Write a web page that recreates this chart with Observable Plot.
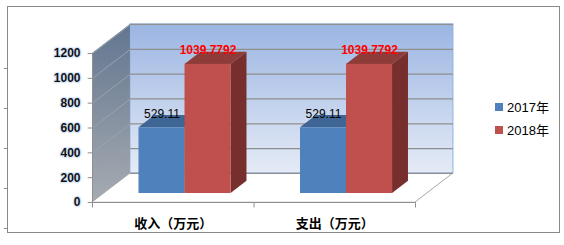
<!DOCTYPE html>
<html>
<head>
<meta charset="utf-8">
<script src="https://cdn.jsdelivr.net/npm/d3@7"></script>
<script src="https://cdn.jsdelivr.net/npm/@observablehq/plot@0.6"></script>
<style>
  html, body { margin: 0; padding: 0; background: #fff; }
  #wrap { position: relative; width: 564px; height: 245px; overflow: hidden; font-family: "Liberation Sans", Arial, "Noto Sans CJK SC", sans-serif; }
  #wrap svg { position: absolute; left: 0; top: 0; }
  #frame { position: absolute; left: 7px; top: 6px; width: 551px; height: 225px; border: 1px solid #8a8a8a; pointer-events: none; }
  .lt { position: absolute; left: 4px; width: 3px; height: 1px; background: #8a8a8a; }
  #legend { position: absolute; left: 495px; top: 95px; font-size: 13px; color: #000; }
  .row { display: flex; align-items: center; height: 23px; }
  .sw { width: 8px; height: 8px; margin-right: 4px; }
</style>
</head>
<body>
<div id="wrap">
  <div id="frame"></div>
</div>
<script>
// ---- data ----
const categories = ["收入（万元）", "支出（万元）"];
const series = ["2017年", "2018年"];
const values2017 = [529.11, 529.11];
const values2018 = [1039.7792, 1039.7792];
const yTicks = [0, 200, 400, 600, 800, 1000, 1200];
const seriesColors = ["#4F81BD", "#C0504D"];
const topColors = ["#3E6593", "#8E3C39"];
const sideColors = ["#365A85", "#772F2D"];
const labelColors = ["#000000", "#FF0000"];

// ---- 3D geometry (in scale units) ----
const DX = 0.235;   // full depth, x units
const DY = 234;     // full depth, y units
const BW = 0.285;   // bar width
const F = 0.31;     // depth of bar front face
const G = 0.42;     // bar depth thickness
const YMAX = 1200;
const NC = categories.length;

const bars = [];
categories.forEach((c, i) => {
  series.forEach((s, j) => {
    const v = j === 0 ? values2017[i] : values2018[i];
    const x1 = i + 0.5 - BW + F * DX + j * BW;
    bars.push({cat: c, i, s, j, v, x1, x2: x1 + BW, id: i + "-" + j});
  });
});

// polygons
const sidePts = bars.flatMap(b => [
  {id: b.id, j: b.j, x: b.x2, y1: F * DY, y2: b.v + F * DY},
  {id: b.id, j: b.j, x: b.x2 + G * DX, y1: (F + G) * DY, y2: b.v + (F + G) * DY}
]);
const topPts = bars.flatMap(b => [
  {id: b.id, j: b.j, y: b.v + F * DY, x1: b.x1, x2: b.x2},
  {id: b.id, j: b.j, y: b.v + (F + G) * DY, x1: b.x1 + G * DX, x2: b.x2 + G * DX}
]);
const leftWall = [
  {x: 0, y1: 0, y2: YMAX},
  {x: DX, y1: DY, y2: YMAX + DY}
];
const floor = [
  {y: 0, x1: 0, x2: NC},
  {y: DY, x1: DX, x2: NC + DX}
];

const plot = Plot.plot({
  width: 564,
  height: 245,
  margin: 0,
  x: {type: "linear", domain: [0, NC], range: [92, 415], axis: null},
  y: {type: "linear", domain: [0, YMAX], range: [202, 53], axis: null},
  color: {type: "identity"},
  style: {background: "transparent", overflow: "visible"},
  marks: [
    // floor
    Plot.area(floor, {y1: "y", x1: "x1", x2: "x2", fill: "#ffffff", stroke: "#a6a6a6", strokeWidth: 1}),
    // back wall
    Plot.rect([0], {x1: () => DX, x2: () => NC + DX, y1: () => DY, y2: () => YMAX + DY, fill: "url(#gBack)", stroke: "#8db3e2", strokeWidth: 1}),
    // left wall
    Plot.area(leftWall, {x1: "x", y1: "y1", y2: "y2", fill: "url(#gLeft)"}),
    // gridlines on back wall
    Plot.ruleY(yTicks, {y: d => d + DY, x1: () => DX, x2: () => NC + DX, stroke: "#8f8f8f", strokeWidth: 1.2}),
    // gridlines on left wall
    Plot.link(yTicks.slice(1), {x1: () => 0, y1: d => d, x2: () => DX, y2: d => d + DY, stroke: "#9aa2ad", strokeWidth: 1}),
    // front value axis line and ticks
    Plot.link([0], {x1: () => 0, y1: () => 0, x2: () => 0, y2: () => YMAX, stroke: "#8f8f8f", strokeWidth: 1}),
    Plot.link(yTicks, {x1: () => 0, x2: () => -0.03, y1: d => d, y2: d => d, stroke: "#8f8f8f"}),
    // category axis line and ticks
    Plot.link([0], {x1: () => 0, x2: () => NC, y1: () => 0, y2: () => 0, stroke: "#8f8f8f"}),
    Plot.link(d3.range(NC + 1), {x1: d => d, x2: d => d, y1: () => 0, y2: () => -40, stroke: "#8f8f8f"}),
    // bars
    Plot.area(sidePts, {x1: "x", y1: "y1", y2: "y2", z: "id", fill: d => sideColors[d.j]}),
    Plot.area(topPts, {y1: "y", x1: "x1", x2: "x2", z: "id", fill: d => topColors[d.j]}),
    Plot.rect(bars, {x1: "x1", x2: "x2", y1: () => F * DY, y2: d => d.v + F * DY, fill: d => seriesColors[d.j]}),
    // value labels
    Plot.text(bars.filter(b => b.j === 0), {x: d => (d.x1 + d.x2) / 2, y: d => d.v + (F + G) * DY, text: d => String(d.v), fill: labelColors[0], fontSize: 12, dy: -1, fontFamily: "Liberation Sans, Arial, sans-serif"}),
    Plot.text(bars.filter(b => b.j === 1), {x: d => (d.x1 + d.x2) / 2, y: d => d.v + (F + G) * DY, text: d => String(d.v), fill: labelColors[1], fontSize: 12, fontWeight: "bold", dy: -2, fontFamily: "Liberation Sans, Arial, sans-serif"}),
    // y tick labels
    Plot.text(yTicks, {x: () => 0, y: d => d, text: d => String(d), textAnchor: "end", dx: -12, fontSize: 12, fontWeight: "bold", fill: "#111", stroke: "#d6e6fb", strokeWidth: 2.5, fontFamily: "Liberation Sans, Arial, sans-serif"}),
    // category labels
    Plot.text(categories, {x: (d, i) => i + 0.5, y: () => 0, text: d => d, dy: 21, fontSize: 13, fontWeight: "bold", fill: "#000", fontFamily: "Noto Sans CJK SC, sans-serif"})
  ]
});

// gradients
const ns = "http://www.w3.org/2000/svg";
const defs = document.createElementNS(ns, "defs");
function grad(id, stops) {
  const g = document.createElementNS(ns, "linearGradient");
  g.setAttribute("id", id);
  g.setAttribute("x1", "0"); g.setAttribute("y1", "0");
  g.setAttribute("x2", "0"); g.setAttribute("y2", "1");
  stops.forEach(([o, c]) => {
    const s = document.createElementNS(ns, "stop");
    s.setAttribute("offset", o);
    s.setAttribute("stop-color", c);
    g.appendChild(s);
  });
  defs.appendChild(g);
}
grad("gBack", [["0", "#9bb5e2"], ["1", "#e5ebf6"]]);
grad("gLeft", [["0", "#627590"], ["1", "#a6abb1"]]);
plot.insertBefore(defs, plot.firstChild);

const wrap = document.getElementById("wrap");
wrap.insertBefore(plot, wrap.firstChild);

// left border stubs
[68, 108, 148, 188, 228].forEach(y => {
  const t = document.createElement("div");
  t.className = "lt";
  t.style.top = y + "px";
  wrap.appendChild(t);
});

// legend
const legend = document.createElement("div");
legend.id = "legend";
series.forEach((s, j) => {
  const r = document.createElement("div");
  r.className = "row";
  const sw = document.createElement("div");
  sw.className = "sw";
  sw.style.background = seriesColors[j];
  const tx = document.createElement("span");
  tx.textContent = s;
  r.appendChild(sw); r.appendChild(tx);
  legend.appendChild(r);
});
wrap.appendChild(legend);
</script>
</body>
</html>
